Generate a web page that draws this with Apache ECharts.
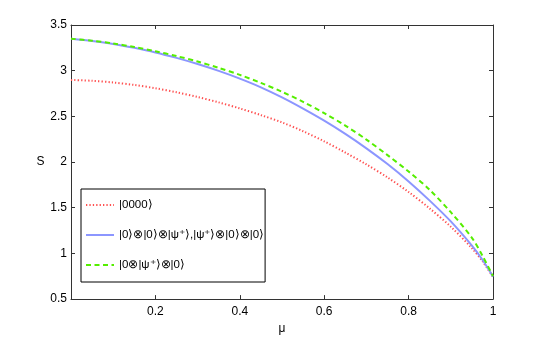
<!DOCTYPE html>
<html>
<head>
<meta charset="utf-8">
<script src="https://cdn.jsdelivr.net/npm/echarts@6/dist/echarts.min.js"></script>
<style>html,body{margin:0;padding:0;background:#fff}#c{width:545px;height:340px}</style>
</head>
<body>
<div id="c"></div>
<script>
var mu = [0, 0.05, 0.1, 0.15, 0.2, 0.25, 0.3, 0.35, 0.4, 0.45, 0.5, 0.55, 0.6, 0.65, 0.7, 0.75, 0.8, 0.85, 0.9, 0.95, 0.975, 1];
var s0000 = [2.899, 2.889, 2.871, 2.844, 2.808, 2.764, 2.712, 2.653, 2.587, 2.514, 2.434, 2.337, 2.227, 2.104, 1.974, 1.832, 1.672, 1.492, 1.292, 1.057, 0.915, 0.742];
var sPsiEnd = [3.35, 3.325, 3.293, 3.25, 3.20, 3.14, 3.073, 2.998, 2.913, 2.818, 2.708, 2.585, 2.453, 2.308, 2.15, 1.978, 1.788, 1.578, 1.35, 1.085, 0.93, 0.745];
var sPsiMid = [3.35, 3.328, 3.298, 3.259, 3.213, 3.16, 3.10, 3.031, 2.954, 2.866, 2.769, 2.659, 2.536, 2.399, 2.246, 2.076, 1.896, 1.696, 1.451, 1.171, 0.975, 0.751];
var names = ['|0000\u27E9', '|0\u27E9\u2297|0\u27E9\u2297|\u03C8\u207A\u27E9,|\u03C8\u207A\u27E9\u2297|0\u27E9\u2297|0\u27E9', '|0\u2297|\u03C8\u207A\u27E9\u2297|0\u27E9'];
var xTicks = [0.2, 0.4, 0.6, 0.8, 1];
var yTicks = [0.5, 1, 1.5, 2, 2.5, 3, 3.5];

function pairs(v) { return mu.map(function (m, i) { return [m, v[i]]; }); }

var axisColor = '#333';
var font = 'Liberation Sans, Arial, Helvetica, sans-serif';
var chart = echarts.init(document.getElementById('c'), null, {renderer: 'canvas'});
chart.setOption({
  animation: false,
  backgroundColor: '#fff',
  grid: {left: 71, top: 25, right: 52, bottom: 39},
  legend: {
    orient: 'vertical', left: 81, top: 189,
    borderColor: '#000', borderWidth: 1, backgroundColor: '#fff',
    padding: [10, 1, 11, 4], itemGap: 18, itemWidth: 28, itemHeight: 12,
    itemStyle: {opacity: 0},
    textStyle: {fontFamily: font, fontSize: 11.5, color: '#000'},
    data: names
  },
  xAxis: [{
    type: 'value', min: 0, max: 1, interval: 0.2, position: 'bottom',
    name: '\u03BC', nameLocation: 'middle', nameGap: 13,
    nameTextStyle: {fontFamily: font, fontSize: 12, color: '#000'},
    axisLine: {show: true, onZero: false, lineStyle: {color: axisColor, width: 1}},
    axisTick: {show: true, inside: true, length: 4, lineStyle: {color: axisColor}},
    axisLabel: {fontFamily: font, fontSize: 12, color: '#000', margin: 7,
      formatter: function (v) { return xTicks.indexOf(+v.toFixed(2)) >= 0 ? String(+v.toFixed(2)) : ''; }},
    splitLine: {show: false}
  }, {
    type: 'value', min: 0, max: 1, interval: 0.2, position: 'top',
    axisLine: {show: true, onZero: false, lineStyle: {color: axisColor, width: 1}},
    axisTick: {show: true, inside: true, length: 4, lineStyle: {color: axisColor}},
    axisLabel: {show: false}, splitLine: {show: false}
  }],
  yAxis: [{
    type: 'value', min: 0.5, max: 3.5, interval: 0.5, position: 'left',
    name: 'S', nameLocation: 'middle', nameGap: 21, nameRotate: 0,
    nameTextStyle: {fontFamily: font, fontSize: 12, color: '#000', padding: [0, 0, 12, 0]},
    axisLine: {show: true, onZero: false, lineStyle: {color: axisColor, width: 1}},
    axisTick: {show: true, inside: true, length: 4, lineStyle: {color: axisColor}},
    axisLabel: {fontFamily: font, fontSize: 12, color: '#000', margin: 4,
      formatter: function (v) { return yTicks.indexOf(+v.toFixed(2)) >= 0 ? String(+v.toFixed(2)) : ''; }},
    splitLine: {show: false}
  }, {
    type: 'value', min: 0.5, max: 3.5, interval: 0.5, position: 'right',
    axisLine: {show: true, onZero: false, lineStyle: {color: axisColor, width: 1}},
    axisTick: {show: true, inside: true, length: 4, lineStyle: {color: axisColor}},
    axisLabel: {show: false}, splitLine: {show: false}
  }],
  series: [{
    name: names[0], type: 'line', xAxisIndex: 0, yAxisIndex: 0, smooth: 0.3,
    symbol: 'none', data: pairs(s0000), color: '#ff5050',
    lineStyle: {color: '#ff5050', width: 2, type: [1.3, 2.1]}
  }, {
    name: names[1], type: 'line', xAxisIndex: 0, yAxisIndex: 0, smooth: 0.3,
    symbol: 'none', data: pairs(sPsiEnd), color: '#8c96ff',
    lineStyle: {color: '#8c96ff', width: 2, type: 'solid'}
  }, {
    name: names[2], type: 'line', xAxisIndex: 0, yAxisIndex: 0, smooth: 0.3,
    symbol: 'none', data: pairs(sPsiMid), color: '#55ee00',
    lineStyle: {color: '#55ee00', width: 2, type: [5, 3.5]}
  }]
});
</script>
</body>
</html>
